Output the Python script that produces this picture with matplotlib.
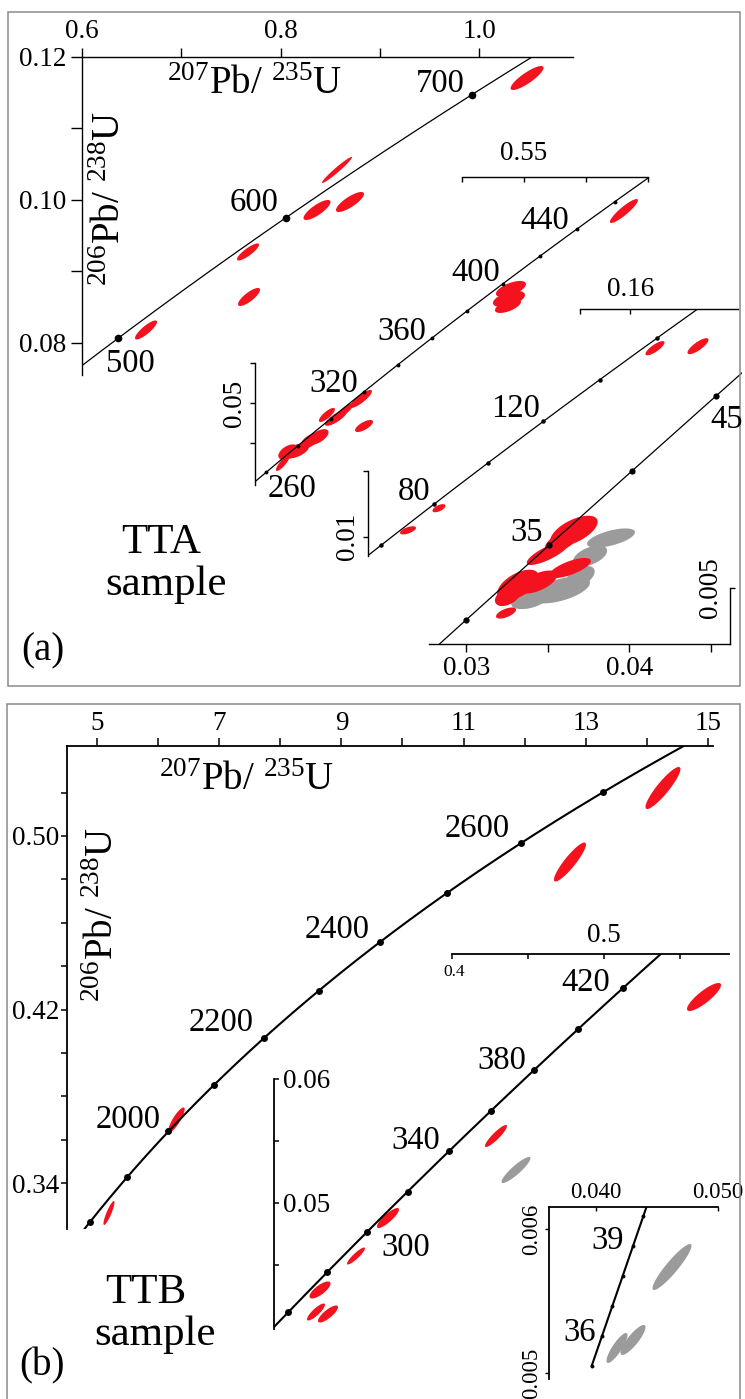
#!/usr/bin/env python3
import numpy as np
import matplotlib
matplotlib.use("Agg")
import matplotlib.pyplot as plt

plt.rcParams["font.family"] = ["Liberation Serif", "DejaVu Serif"]
plt.rcParams["mathtext.fontset"] = "custom"
plt.rcParams["mathtext.rm"] = "Liberation Serif"
plt.rcParams["mathtext.it"] = "Liberation Serif:italic"

# U decay constants (1/yr)
L238 = 1.55125e-10
L235 = 9.8485e-10

RED = "#f5121f"
GRAY = "#9b9b9b"
TICK_FS = 19.5
SMALL_TICK_FS = 16.5
AGE_FS = 23.5

# ---- panel (a) data ----
A1_DOTS = [500, 600, 700]
A1_X = [0.6645, 0.7673, 0.7683, 0.8368, 0.8700, 0.8569, 1.0484]
A1_Y = [0.08182, 0.09273, 0.08643, 0.09860, 0.09972, 0.10420, 0.11706]
A1_EX = [0.0111, 0.0111, 0.0111, 0.0136, 0.0141, 0.0151, 0.0166]
A1_EY = [0.00133, 0.00119, 0.00126, 0.0014, 0.0014, 0.00182, 0.00168]
A1_RHO = [0.85, 0.85, 0.8, 0.8, 0.8, 0.97, 0.85]

A2_DOTS = [260, 280, 300, 320, 340, 360, 380, 400, 420, 440, 460]
A2_X = [0.3682, 0.3408, 0.3481, 0.3707, 0.3336, 0.3271, 0.3158, 0.3094, 0.3053,
        0.4892, 0.4876, 0.4868, 0.5803, 0.3560]
A2_Y = [0.05004, 0.04810, 0.04773, 0.04676, 0.04543, 0.04495, 0.04373, 0.04361, 0.04228,
        0.06337, 0.06216, 0.06131, 0.07282, 0.04870]
A2_EX = [0.00887, 0.00645, 0.00887, 0.00726, 0.0085, 0.0078, 0.0105, 0.0078, 0.0056,
         0.0121, 0.0129, 0.0105, 0.0113, 0.0060]
A2_EY = [0.00109, 0.00085, 0.00095, 0.00073, 0.00095, 0.00095, 0.00092, 0.00092, 0.00097,
         0.00097, 0.00097, 0.00085, 0.00145, 0.00080]
A2_RHO = [0.85, 0.8, 0.8, 0.7, 0.6, 0.6, 0.55, 0.5, 0.85, 0.6, 0.5, 0.6, 0.9, 0.8]

A3_DOTS = [60, 80, 100, 120, 140, 160]
A3_X = [0.16989, 0.18699, 0.08397, 0.07164]
A3_Y = [0.024364, 0.024518, 0.012180, 0.010495]
A3_EX = [0.00378, 0.00418, 0.00259, 0.00318]
A3_EY = [0.00054, 0.00061, 0.00031, 0.00031]
A3_RHO = [0.8, 0.8, 0.6, 0.6]

A4_DOTS = [30, 35, 40, 45]
A4_RED_X = [0.036608, 0.035872, 0.035014, 0.036363, 0.034401, 0.033174, 0.032561, 0.032439]
A4_RED_Y = [0.0055943, 0.0054899, 0.0053645, 0.0052078, 0.0050616, 0.0050302, 0.0049153, 0.0047377]
A4_RED_EX = [0.00145, 0.00105, 0.00130, 0.00128, 0.00118, 0.00128, 0.00080, 0.000613]
A4_RED_EY = [0.000160, 0.000120, 0.000125, 0.000105, 0.000120, 0.000160, 0.000105, 0.000058]
A4_RED_RHO = [0.6, 0.6, 0.8, 0.7, 0.6, 0.55, 0.45, 0.6]
A4_GRAY_X = [0.038877, 0.037589, 0.035750, 0.033910, 0.036976]
A4_GRAY_Y = [0.0055212, 0.0053332, 0.0049780, 0.0048735, 0.0051138]
A4_GRAY_EX = [0.001472, 0.00105, 0.00184, 0.00115, 0.00090]
A4_GRAY_EY = [0.000100, 0.000110, 0.000140, 0.000095, 0.000115]
A4_GRAY_RHO = [0.6, 0.5, 0.55, 0.45, 0.5]

# ---- panel (b) data ----
B1_DOTS = [1800, 1900, 2000, 2100, 2200, 2300, 2400, 2500, 2600, 2700]
B1_X = [5.196, 6.300, 12.741, 14.263]
B1_Y = [0.32619, 0.36906, 0.48801, 0.52213]
B1_EX = [0.090, 0.135, 0.262, 0.286]
B1_EY = [0.00553, 0.00580, 0.00899, 0.00968]
B1_RHO = [0.88, 0.85, 0.9, 0.9]

B2_DOTS = [260, 280, 300, 320, 340, 360, 380, 400, 420]
B2_RED_X = [0.31281, 0.31017, 0.31808, 0.33651, 0.35757, 0.42867, 0.56561]
B2_RED_Y = [0.042958, 0.041183, 0.041021, 0.045701, 0.048766, 0.055382, 0.066596]
B2_RED_EX = [0.00691, 0.00592, 0.00658, 0.00592, 0.00724, 0.00724, 0.01119]
B2_RED_EY = [0.000686, 0.000686, 0.000686, 0.000686, 0.000807, 0.000887, 0.00113]
B2_RED_RHO = [0.75, 0.85, 0.8, 0.9, 0.85, 0.9, 0.85]
B2_GRAY_X = [0.44184]
B2_GRAY_Y = [0.052639]
B2_GRAY_EX = [0.00955]
B2_GRAY_EY = [0.00105]
B2_GRAY_RHO = [0.9]

B3_DOTS = [35, 36, 37, 38, 39, 40]
B3_X = [0.043012, 0.037574, 0.039156]
B3_Y = [0.0059589, 0.0055375, 0.0055791]
B3_EX = [0.001928, 0.001038, 0.001236]
B3_EY = [0.0001197, 0.000078, 0.000078]
B3_RHO = [0.92, 0.85, 0.85]

W, H = 745, 1399
fig = plt.figure(figsize=(W / 100, H / 100), dpi=100)


def concordia(t_ma):
    t = np.asarray(t_ma, dtype=float) * 1e6
    return np.exp(L235 * t) - 1, np.exp(L238 * t) - 1


def add_box(x0, y0, x1, y1):
    # axes placed by pixel rectangle (top-left origin)
    ax = fig.add_axes([x0 / W, 1 - y1 / H, (x1 - x0) / W, (y1 - y0) / H])
    ax.patch.set_visible(False)
    for s in ax.spines.values():
        s.set_visible(False)
        s.set_linewidth(1.0)
    ax.tick_params(which="both", bottom=False, top=False, left=False, right=False,
                   labelbottom=False, labeltop=False, labelleft=False, labelright=False)
    return ax


def draw_curve(ax, t0, t1, lw, dots, ms):
    t = np.linspace(t0, t1, 600)
    x, y = concordia(t)
    ax.plot(x, y, color="black", lw=lw, zorder=3)
    dx, dy = concordia(dots)
    ax.plot(dx, dy, "o", color="black", ms=ms, mew=0, zorder=4, clip_on=False)


def draw_ellipses(ax, xs, ys, exs, eys, rhos, color):
    th = np.linspace(0, 2 * np.pi, 120)
    for x, y, ex, ey, r in zip(xs, ys, exs, eys, rhos):
        px = x + ex * np.cos(th)
        py = y + ey * (r * np.cos(th) + np.sqrt(1 - r * r) * np.sin(th))
        ax.fill(px, py, color=color, lw=0, zorder=2)


def ptext(px, py, s, size, **kw):
    kw.setdefault("ha", "center")
    kw.setdefault("va", "center")
    fig.text(px / W, 1 - py / H, s, fontsize=size, **kw)


def rotate_ylabels(ax):
    ax.tick_params(axis="y", labelrotation=90)
    for lbl in ax.get_yticklabels():
        lbl.set_va("center")


# panel frames
fig.add_artist(plt.Rectangle((8 / W, 1 - 686 / H), 732 / W, 674 / H, fill=False,
                             ec="#8a8a8a", lw=1.1, transform=fig.transFigure))
fig.add_artist(plt.Rectangle((7 / W, 1 - 1405 / H), 733 / W, 701 / H, fill=False,
                             ec="#8a8a8a", lw=1.1, transform=fig.transFigure))

# ================= panel (a) =================
# main 500-700 Ma
ax = add_box(82, 57, 573, 375)
ax.set_xlim(0.6, 1.0947)
ax.set_ylim(0.07552, 0.12)
ax.spines["top"].set_visible(True)
ax.spines["left"].set_visible(True)
ax.xaxis.set_ticks_position("top")
ax.set_xticks([0.6, 0.7, 0.8, 0.9, 1.0], labels=["0.6", "", "0.8", "", "1.0"])
ax.set_yticks([0.08, 0.09, 0.10, 0.11, 0.12], labels=["0.08", "", "0.10", "", "0.12"])
ax.tick_params(axis="x", top=True, labeltop=True, direction="out", length=6.5, width=1,
               pad=3, labelsize=TICK_FS)
ax.tick_params(axis="y", left=True, labelleft=True, direction="out", length=8, width=1,
               pad=3, labelsize=TICK_FS)
draw_curve(ax, 440, 760, 0.9, A1_DOTS, 5.5)
draw_ellipses(ax, A1_X, A1_Y, A1_EX, A1_EY, A1_RHO, RED)

# 260-460 Ma: frame and content
fr = add_box(255, 177, 648, 485)
fr.set_xlim(0.33306, 0.65)
fr.set_ylim(0.03975, 0.07825)
fr.spines["top"].set_visible(True)
fr.spines["top"].set_bounds(0.5, 0.65)
fr.spines["left"].set_visible(True)
fr.spines["left"].set_bounds(0.03975, 0.055)
fr.xaxis.set_ticks_position("top")
fr.set_xticks([0.5, 0.55, 0.6, 0.65], labels=["", "0.55", "", ""])
fr.set_yticks([0.045, 0.05, 0.055], labels=["", "0.05", ""])
fr.tick_params(axis="x", top=True, labeltop=True, direction="in", length=3.6, width=1,
               pad=8, labelsize=TICK_FS)
fr.tick_params(axis="y", left=True, labelleft=True, direction="out", length=3.5, width=1,
               pad=2, labelsize=TICK_FS)
rotate_ylabels(fr)

ax = add_box(255, 177, 648, 485)
ax.set_xlim(0.2828, 0.5997)
ax.set_ylim(0.03961, 0.07694)
draw_curve(ax, 240, 480, 0.9, A2_DOTS, 2.8)
draw_ellipses(ax, A2_X, A2_Y, A2_EX, A2_EY, A2_RHO, RED)

# 60-160 Ma
ax = add_box(368, 309, 738, 556)
ax.set_xlim(0.05573, 0.20290)
ax.set_ylim(0.00854, 0.02735)
ax.spines["top"].set_visible(True)
ax.spines["top"].set_bounds(0.14, 0.2029)
ax.spines["left"].set_visible(True)
ax.spines["left"].set_bounds(0.00854, 0.015)
ax.xaxis.set_ticks_position("top")
ax.set_xticks([0.14, 0.16], labels=["", "0.16"])
ax.set_yticks([0.01, 0.015], labels=["0.01", ""])
ax.tick_params(axis="x", top=True, labeltop=True, direction="in", length=3.6, width=1,
               pad=5, labelsize=TICK_FS)
ax.tick_params(axis="y", left=True, labelleft=True, direction="out", length=3.5, width=1,
               pad=2, labelsize=TICK_FS)
rotate_ylabels(ax)
draw_curve(ax, 50, 185, 0.9, A3_DOTS, 3.2)
draw_ellipses(ax, A3_X, A3_Y, A3_EX, A3_EY, A3_RHO, RED)

# 30-45 Ma
ax = add_box(429, 360, 742, 644)
ax.set_xlim(0.027717, 0.046909)
ax.set_ylim(0.004414, 0.007381)
ax.spines["bottom"].set_visible(True)
ax.spines["bottom"].set_bounds(0.027717, 0.046173)
ax.spines["left"].set_visible(True)
ax.spines["left"].set_position(("data", 0.046173))
ax.spines["left"].set_bounds(0.004414, 0.005)
ax.set_xticks([0.03, 0.035, 0.04, 0.045], labels=["0.03", "", "0.04", ""])
ax.set_yticks([0.005], labels=["0.005"])
ax.tick_params(axis="x", bottom=True, labelbottom=True, direction="out", length=5.5, width=1,
               pad=3, labelsize=TICK_FS)
ax.tick_params(axis="y", left=True, labelleft=True, direction="in", length=3.6, width=1,
               pad=5, labelsize=TICK_FS)
rotate_ylabels(ax)
draw_curve(ax, 25, 50, 0.9, A4_DOTS, 4.5)
draw_ellipses(ax, A4_GRAY_X, A4_GRAY_Y, A4_GRAY_EX, A4_GRAY_EY, A4_GRAY_RHO, GRAY)
draw_ellipses(ax, A4_RED_X, A4_RED_Y, A4_RED_EX, A4_RED_EY, A4_RED_RHO, RED)

# panel (a) text
ptext(255, 85, r"$^{207}$Pb/ $^{235}$U", 28)
ptext(110, 198, r"$^{206}$Pb/ $^{238}$U", 28, rotation=90)
for s, px, py in [("500", 130, 364), ("600", 254, 203), ("700", 440, 84),
                  ("260", 292, 489), ("320", 334, 384), ("360", 402, 332),
                  ("400", 476, 273), ("440", 545, 221), ("80", 414, 492),
                  ("120", 516, 409), ("35", 527, 533), ("45", 727, 420)]:
    ptext(px, py, s, AGE_FS)
ptext(161, 553, "TTA", 31, va="baseline")
ptext(166, 595, "sample", 31, va="baseline")
ptext(43, 660, "(a)", 28, va="baseline")

# ================= panel (b) =================
# main 1800-2700 Ma
ax = add_box(67, 746, 713, 1229)
ax.set_xlim(4.509, 15.082)
ax.set_ylim(0.31881, 0.54149)
ax.spines["top"].set_visible(True)
ax.spines["left"].set_visible(True)
ax.spines["top"].set_linewidth(1.3)
ax.spines["left"].set_linewidth(1.3)
ax.xaxis.set_ticks_position("top")
ax.set_xticks(list(range(5, 16)),
              labels=["5", "", "7", "", "9", "", "11", "", "13", "", "15"])
ax.set_yticks([0.34, 0.36, 0.38, 0.40, 0.42, 0.44, 0.46, 0.48, 0.50, 0.52],
              labels=["0.34", "", "", "", "0.42", "", "", "", "0.50", ""])
ax.tick_params(axis="x", top=True, labeltop=True, direction="out", length=5.5, width=1.1,
               pad=2, labelsize=TICK_FS)
ax.tick_params(axis="y", left=True, labelleft=True, direction="out", length=4.5, width=1.1,
               pad=1, labelsize=TICK_FS)
draw_curve(ax, 1700, 2850, 1.5, B1_DOTS, 5)
draw_ellipses(ax, B1_X, B1_Y, B1_EX, B1_EY, B1_RHO, RED)

# 260-420 Ma
ax = add_box(274, 954, 729, 1329)
ax.set_xlim(0.28253, 0.58206)
ax.set_ylim(0.039811, 0.070065)
ax.spines["top"].set_visible(True)
ax.spines["top"].set_bounds(0.4, 0.58206)
ax.spines["right"].set_visible(True)
ax.spines["right"].set_position(("axes", 0))
ax.spines["right"].set_bounds(0.039811, 0.06)
ax.spines["top"].set_linewidth(1.3)
ax.spines["right"].set_linewidth(1.3)
ax.xaxis.set_ticks_position("top")
ax.yaxis.set_ticks_position("right")
ax.set_xticks([0.4, 0.45, 0.5, 0.55], labels=["", "", "0.5", ""])
ax.set_yticks([0.045, 0.05, 0.055, 0.06], labels=["", "0.05", "", "0.06"])
ax.tick_params(axis="x", top=True, labeltop=True, direction="in", length=3.6, width=1.1,
               pad=4, labelsize=TICK_FS)
ax.tick_params(axis="y", right=True, labelright=True, direction="out", length=3.6, width=1.1,
               pad=3, labelsize=TICK_FS)
draw_curve(ax, 240, 460, 1.5, B2_DOTS, 5)
draw_ellipses(ax, B2_GRAY_X, B2_GRAY_Y, B2_GRAY_EX, B2_GRAY_EY, B2_GRAY_RHO, GRAY)
draw_ellipses(ax, B2_RED_X, B2_RED_Y, B2_RED_EX, B2_RED_EY, B2_RED_RHO, RED)
ptext(454, 972, "0.4", 12.5)

# 35-40 Ma: frame and content
fr = add_box(549, 1207, 718, 1379)
fr.set_xlim(0.036148, 0.050)
fr.set_ylim(0.0049583, 0.0061528)
fr.spines["top"].set_visible(True)
fr.spines["left"].set_visible(True)
fr.spines["top"].set_linewidth(1.3)
fr.spines["left"].set_linewidth(1.3)
fr.xaxis.set_ticks_position("top")
fr.set_xticks([0.040, 0.050], labels=["0.040", "0.050"])
fr.set_yticks([0.005, 0.006], labels=["0.005", "0.006"])
fr.tick_params(axis="x", top=True, labeltop=True, direction="in", length=3, width=1,
               pad=3, labelsize=SMALL_TICK_FS)
fr.tick_params(axis="y", left=True, labelleft=True, direction="out", length=3, width=1,
               pad=2, labelsize=SMALL_TICK_FS)
rotate_ylabels(fr)

ax = add_box(549, 1207, 718, 1379)
ax.set_xlim(0.030851, 0.047560)
ax.set_ylim(0.0053762, 0.0062711)
draw_curve(ax, 35, 41, 1.5, B3_DOTS, 2.8)
draw_ellipses(ax, B3_X, B3_Y, B3_EX, B3_EY, B3_RHO, GRAY)

# panel (b) text
ptext(247, 781, r"$^{207}$Pb/ $^{235}$U", 28)
ptext(104, 914, r"$^{206}$Pb/ $^{238}$U", 28, rotation=90)
for s, px, py in [("2000", 128, 1120), ("2200", 221, 1023), ("2400", 337, 930),
                  ("2600", 477, 829), ("300", 406, 1248), ("340", 416, 1141),
                  ("380", 502, 1061), ("420", 586, 983), ("36", 580, 1333),
                  ("39", 608, 1241)]:
    ptext(px, py, s, AGE_FS)
ptext(146, 1303, "TTB", 31, va="baseline")
ptext(155, 1345, "sample", 31, va="baseline")
ptext(42, 1375, "(b)", 28, va="baseline")

fig.savefig("out.png", dpi=100)
